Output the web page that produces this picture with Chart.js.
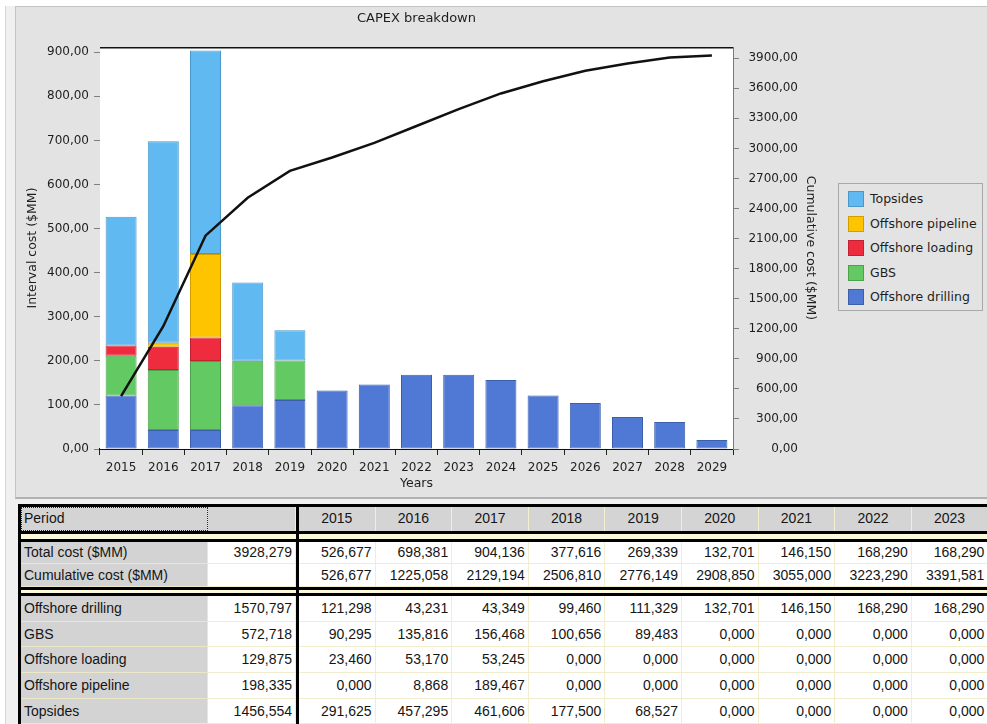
<!DOCTYPE html>
<html>
<head>
<meta charset="utf-8">
<title>CAPEX breakdown</title>
<script src="https://cdn.jsdelivr.net/npm/chart.js@4.4.1/dist/chart.umd.min.js"></script>
<style>
  html, body { margin: 0; padding: 0; }
  body {
    width: 987px; height: 724px; position: relative; overflow: hidden;
    background: #f0f0f0; font-family: "Liberation Sans", Arial, sans-serif;
  }
  #edge { position: absolute; left: 0; top: 0; width: 5px; height: 724px; background: #fff; border-right: 1px solid #d6d6d6; }
  #topEdge { position: absolute; left: 0; top: 0; width: 987px; height: 6px; background: #fff; }
  #panel {
    position: absolute; left: 15px; top: 6px; width: 972px; height: 493px; box-sizing: border-box;
    background: #e3e3e3; border-left: 1px solid #c4c4c4; border-top: 1px solid #c4c4c4; border-bottom: 2px solid #b2b2b2;
  }
  #chartBox { position: absolute; left: 16px; top: 7px; width: 971px; height: 491px; }
  #legend {
    position: absolute; left: 838px; top: 183px; width: 145px; height: 128px; box-sizing: border-box;
    border: 1px solid #a8a8a8; background: #e3e3e3;
    font-family: "DejaVu Sans", sans-serif; font-size: 12.5px; color: #1e1e1e;
  }
  .lg-item { position: absolute; left: 9px; height: 18px; line-height: 18px; white-space: nowrap; }
  .lg-sw { position: absolute; left: 0; top: 1px; width: 16px; height: 16px; box-sizing: border-box; border: 1px solid; }
  .lg-tx { position: absolute; left: 22px; top: 0; }
  #grid { position: absolute; left: 18px; top: 504px; width: 969px; height: 220px; background: #000; overflow: hidden; }
  .c {
    position: absolute; box-sizing: border-box; font-size: 14px; color: #151515;
    white-space: nowrap; overflow: hidden;
  }
  .lab { background: #d3d3d3; padding-left: 3px; border-bottom: 1px solid #ece7c4; border-right: 1px solid #ece7c4; }
  .num { background: #fff; text-align: right; padding-right: 3px; border-bottom: 1px solid #f1edcd; border-right: 1px solid #f1edcd; }
  .hd { background: #d4d4d4; text-align: center; border-right: 1px solid #f4efcc; }
  .band { background: #fbf9da; }
  .focus { outline: 1px dotted #222; outline-offset: -1px; }
</style>
</head>
<body>
<div id="edge"></div>
<div id="topEdge"></div>
<div id="panel"></div>
<div id="chartBox"><canvas id="capex" width="971" height="491"></canvas></div>
<div id="legend"></div>
<div id="grid"></div>

<script>
// ---- Data ($MM per year) ----
const years = ['2015','2016','2017','2018','2019','2020','2021','2022','2023','2024','2025','2026','2027','2028','2029'];

const offshoreDrilling = [121.298, 43.231, 43.349, 99.460, 111.329, 132.701, 146.150, 168.290, 168.290, 156.8, 121.5, 104.3, 72.5, 61.2, 20.4];
const gbs              = [90.295, 135.816, 156.468, 100.656, 89.483, 0, 0, 0, 0, 0, 0, 0, 0, 0, 0];
const offshoreLoading  = [23.460, 53.170, 53.245, 0, 0, 0, 0, 0, 0, 0, 0, 0, 0, 0, 0];
const offshorePipeline = [0, 8.868, 189.467, 0, 0, 0, 0, 0, 0, 0, 0, 0, 0, 0, 0];
const topsides         = [291.625, 457.295, 461.606, 177.500, 68.527, 0, 0, 0, 0, 0, 0, 0, 0, 0, 0];

const totalCost      = [526.677, 698.381, 904.136, 377.616, 269.339, 132.701, 146.150, 168.290, 168.290, 156.8, 121.5, 104.3, 72.5, 61.2, 20.4];
const cumulativeCost = [526.677, 1225.058, 2129.194, 2506.810, 2776.149, 2908.850, 3055.000, 3223.290, 3391.581, 3548.4, 3669.9, 3774.2, 3846.7, 3907.9, 3928.3];

// Whole-period totals shown in the summary column
const periodTotals = {
  'Total cost ($MM)': 3928.279,
  'Offshore drilling': 1570.797,
  'GBS': 572.718,
  'Offshore loading': 129.875,
  'Offshore pipeline': 198.335,
  'Topsides': 1456.554
};

// Axis tick layout
const intervalStep = 100, intervalMax = 912;
const cumulativeStep = 300, cumulativeMax = 4012;

// Series styling, bottom of the stack first
const series = [
  { label: 'Offshore drilling', data: offshoreDrilling, fill: '#4f79d5', edge: '#3c5fa9' },
  { label: 'GBS',               data: gbs,              fill: '#63c963', edge: '#4ca24c' },
  { label: 'Offshore loading',  data: offshoreLoading,  fill: '#ee2c3e', edge: '#bf2232' },
  { label: 'Offshore pipeline', data: offshorePipeline, fill: '#ffc400', edge: '#cf9e00' },
  { label: 'Topsides',          data: topsides,         fill: '#60baf1', edge: '#4a98c9' }
];

const fmt2 = v => Number(v).toFixed(2).replace('.', ',');
const fmt3 = v => Number(v).toFixed(3).replace('.', ',');

const FONT = '"DejaVu Sans", sans-serif';
const INK = '#1e1e1e';

// White plot area, top frame line, title and right axis caption
const framePlugin = {
  id: 'frame',
  beforeDatasetsDraw(chart) {
    const { ctx, chartArea: a } = chart;
    ctx.save();
    ctx.fillStyle = '#ffffff';
    ctx.fillRect(a.left, a.top, a.right - a.left, a.bottom - a.top);
    ctx.restore();
  },
  afterDraw(chart) {
    const { ctx, chartArea: a } = chart;
    ctx.save();
    ctx.strokeStyle = '#111';
    ctx.lineWidth = 1.5;
    ctx.beginPath();
    ctx.moveTo(a.left, a.top + 0.75);
    ctx.lineTo(a.right, a.top + 0.75);
    ctx.stroke();

    ctx.fillStyle = INK;
    ctx.textAlign = 'center';
    ctx.textBaseline = 'middle';
    ctx.font = '13px ' + FONT;
    ctx.fillText('CAPEX breakdown', (a.left + a.right) / 2, 11.5);

    const y2 = chart.scales.y2;
    ctx.translate(y2.right + 12.5, (a.top + a.bottom) / 2);
    ctx.rotate(Math.PI / 2);
    ctx.font = '12.5px ' + FONT;
    ctx.fillText('Cumulative cost ($MM)', 0, 0);
    ctx.restore();
  }
};

const datasets = series.map(s => ({
  type: 'bar',
  label: s.label,
  data: s.data,
  backgroundColor: s.fill,
  borderColor: s.edge,
  borderWidth: 1,
  borderSkipped: false,
  yAxisID: 'y',
  stack: 'capex',
  order: 1,
  barPercentage: 0.735,
  categoryPercentage: 1.0
}));

datasets.push({
  type: 'line',
  label: 'Cumulative cost ($MM)',
  data: cumulativeCost,
  borderColor: '#111111',
  borderWidth: 2.5,
  pointRadius: 0,
  tension: 0,
  fill: false,
  yAxisID: 'y2',
  order: 0
});

Chart.defaults.font.family = FONT;
Chart.defaults.color = INK;

new Chart(document.getElementById('capex'), {
  data: { labels: years, datasets },
  options: {
    responsive: false,
    animation: false,
    layout: { padding: { top: 40, left: 0, right: 189, bottom: 0 } },
    plugins: {
      legend: { display: false },
      title: { display: false },
      tooltip: { enabled: false }
    },
    scales: {
      x: {
        stacked: true,
        offset: true,
        grid: { display: true, offset: true, drawOnChartArea: false, drawTicks: true, tickLength: 6, color: '#222', lineWidth: 1 },
        border: { display: true, color: '#111', width: 2 },
        ticks: { font: { size: 12 }, color: INK, padding: 6, maxRotation: 0 },
        title: { display: true, text: 'Years', font: { size: 12.5 }, color: INK, padding: { top: 0, bottom: 7 } },
        afterFit(scale) { scale.height = 49; }
      },
      y: {
        stacked: true,
        position: 'left',
        min: 0,
        max: intervalMax,
        grid: { display: true, drawOnChartArea: false, drawTicks: true, tickLength: 6, color: '#808080' },
        border: { display: true, color: '#111', width: 1 },
        ticks: { stepSize: intervalStep, includeBounds: false, font: { size: 12 }, color: INK, padding: 5, callback: v => fmt2(v) },
        afterBuildTicks(scale) { scale.ticks = scale.ticks.filter(t => t.value % intervalStep === 0); },
        title: { display: true, text: 'Interval cost ($MM)', font: { size: 12.5 }, color: INK, padding: { top: 9, bottom: 0 } },
        afterFit(scale) { scale.width = 84; }
      },
      y2: {
        position: 'right',
        min: 0,
        max: cumulativeMax,
        grid: { display: true, drawOnChartArea: false, drawTicks: true, tickLength: 6, color: '#808080' },
        border: { display: true, color: '#7a7a7a', width: 1 },
        ticks: { stepSize: cumulativeStep, includeBounds: false, font: { size: 12 }, color: INK, padding: 5, crossAlign: 'far', callback: v => fmt2(v) },
        afterBuildTicks(scale) { scale.ticks = scale.ticks.filter(t => t.value % cumulativeStep === 0); },
        title: { display: false },
        afterFit(scale) { scale.width = 65; }
      }
    }
  },
  plugins: [framePlugin]
});

// ---- Legend (top entry = top of the stack) ----
const legend = document.getElementById('legend');
series.slice().reverse().forEach((s, i) => {
  const item = document.createElement('div');
  item.className = 'lg-item';
  item.style.top = (6 + i * 24.6) + 'px';
  item.innerHTML = '<span class="lg-sw" style="background:' + s.fill + ';border-color:' + s.edge + '"></span>' +
                   '<span class="lg-tx">' + s.label + '</span>';
  legend.appendChild(item);
});

// ---- Data grid under the chart ----
const grid = document.getElementById('grid');
const X_LAB = 3, W_LAB = 187, X_TOT = 190, W_TOT = 88, X_YR = 281, W_YR = 76.6;

function cell(cls, x, y, w, h, text, extra) {
  const d = document.createElement('div');
  d.className = 'c ' + cls + (extra ? ' ' + extra : '');
  d.style.left = x + 'px'; d.style.top = y + 'px';
  d.style.width = w + 'px'; d.style.height = h + 'px';
  d.style.lineHeight = (h - 1) + 'px';
  d.textContent = text;
  grid.appendChild(d);
}
function band(y, h) {
  cell('band', X_LAB, y, X_TOT + W_TOT - X_LAB, h, '');
  cell('band', X_YR, y, years.length * W_YR, h, '');
}

// header
cell('hd', X_LAB, 3, W_LAB, 24, 'Period', 'focus');
grid.lastChild.style.textAlign = 'left';
grid.lastChild.style.paddingLeft = '3px';
cell('hd', X_TOT, 3, W_TOT, 24, '');
years.forEach((yr, i) => cell('hd', X_YR + i * W_YR, 3, W_YR, 24, yr));
band(29.5, 5);

// cost rows
const costRows = [
  { label: 'Total cost ($MM)', total: periodTotals['Total cost ($MM)'], values: totalCost, y: 37.5, h: 22.5 },
  { label: 'Cumulative cost ($MM)', total: null, values: cumulativeCost, y: 60, h: 23 }
];
costRows.forEach(r => {
  cell('lab', X_LAB, r.y, W_LAB, r.h, r.label);
  cell('num', X_TOT, r.y, W_TOT, r.h, r.total == null ? '' : fmt3(r.total));
  r.values.forEach((v, i) => cell('num', X_YR + i * W_YR, r.y, W_YR, r.h, fmt3(v)));
});
band(85.5, 3.5);

// item rows, in table order
const itemRows = ['Offshore drilling', 'GBS', 'Offshore loading', 'Offshore pipeline', 'Topsides'];
itemRows.forEach((name, k) => {
  const s = series.find(q => q.label === name);
  const y = 92 + k * 25.7, h = 25.7;
  cell('lab', X_LAB, y, W_LAB, h, name);
  cell('num', X_TOT, y, W_TOT, h, fmt3(periodTotals[name]));
  s.data.forEach((v, i) => cell('num', X_YR + i * W_YR, y, W_YR, h, fmt3(v)));
});
</script>
</body>
</html>
